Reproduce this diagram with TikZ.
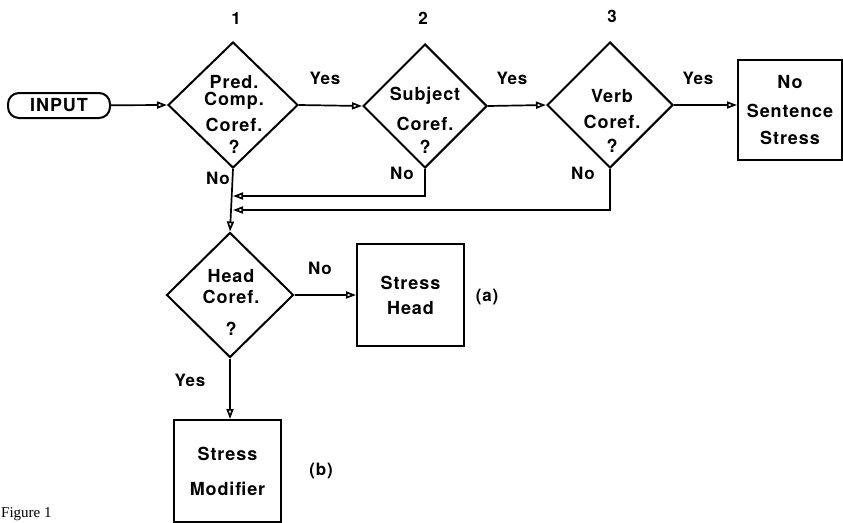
\documentclass[tikz,border=0pt]{standalone}
\usepackage{fontspec}
\setmainfont{Liberation Serif}
\newfontfamily\flowfont[LetterSpace=5]{TeX Gyre Heros}
\usetikzlibrary{shapes.geometric,arrows.meta}

\tikzset{
  flowtext/.style={font=\flowfont\bfseries\fontsize{18}{20}\selectfont},
  decision/.style={diamond, draw=black, line width=2pt, inner sep=0pt},
  dtext/.style={flowtext, align=center, inner sep=0pt},
  process/.style={rectangle, draw=black, line width=2pt, flowtext, align=center},
  startbox/.style={rectangle, rounded corners=11pt, draw=black, line width=2pt,
    flowtext, minimum width=102pt, minimum height=25pt, inner sep=0pt},
  arr/.style={line width=1.7pt, -{Triangle[open,length=10pt,width=7pt]}},
  lbl/.style={font=\flowfont\bfseries\fontsize{17}{19}\selectfont, inner sep=0pt}
}

\begin{document}
\begin{tikzpicture}[x=1pt, y=-1pt]
  \useasboundingbox (0,0) rectangle (843,522);

  % start
  \node[startbox] (input) at (59,105.5) {INPUT};

  % first row of tests
  \node[decision, minimum width=130pt, minimum height=126pt] (d1) at (233,105) {};
  \node[decision, minimum width=124pt, minimum height=124pt] (d2) at (425,106) {};
  \node[decision, minimum width=126pt, minimum height=126pt] (d3) at (610,105) {};
  \node[dtext] (t1) at (234,114) {Pred.\\[-3pt]Comp.\\[6pt]Coref.\\[2pt]?};
  \node[dtext] (t2) at (425,120) {Subject\\[10pt]Coref.\\[3pt]?};
  \node[dtext] (t3) at (612,121) {Verb\\[6pt]Coref.\\[4pt]?};
  \node[lbl] (n1) at (236,18) {1};
  \node[lbl] (n2) at (423,18) {2};
  \node[lbl] (n3) at (612,16) {3};

  \node[process, minimum width=104pt, minimum height=100pt] (nostress) at (790,110)
    {No\\[9pt]Sentence\\[7pt]Stress};

  % second test
  \node[decision, minimum width=127pt, minimum height=125pt] (d4) at (230,295) {};
  \node[dtext] (t4) at (231,302) {Head\\[1pt]Coref.\\[12pt]?};

  \node[process, minimum width=107pt, minimum height=102pt] (head) at (410.5,295)
    {Stress\\[5pt]Head};
  \node[process, minimum width=107pt, minimum height=102pt] (modifier) at (227.5,471)
    {Stress\\[15pt]Modifier};

  \coordinate (j1) at (233,196);
  \coordinate (j2) at (233,210);

  % connectors
  \draw[arr] (input) -- (d1.west);
  \draw[arr] (d1.east) -- (d2.west);
  \draw[arr] (d2.east) -- (d3.west);
  \draw[arr] (d3.east) -- (d3.east -| nostress.west);
  \draw[arr] (d2.south) |- (j1);
  \draw[arr] (d3.south) |- (j2);
  \draw[arr] (d1.south) -- (d4.north);
  \draw[arr] (d4.east) -- (head.west);
  \draw[arr] (d4.south) -- (d4.south |- modifier.north);

  % branch labels
  \node[lbl] (y1) at (325,78) {Yes};
  \node[lbl] (y2) at (512,78) {Yes};
  \node[lbl] (y3) at (698,78) {Yes};
  \node[lbl] (no1) at (218,178) {No};
  \node[lbl] (no2) at (402,173) {No};
  \node[lbl] (no3) at (583,173) {No};
  \node[lbl] (no4) at (320,268) {No};
  \node[lbl] (y4) at (190,380) {Yes};
  \node[lbl] (ca) at (487,297) {(a)};
  \node[lbl] (cb) at (321,471) {(b)};

  \node[anchor=base west, font=\fontsize{15}{17}\selectfont, inner sep=0pt] (fig) at (1,517) {Figure 1};
\end{tikzpicture}
\end{document}
